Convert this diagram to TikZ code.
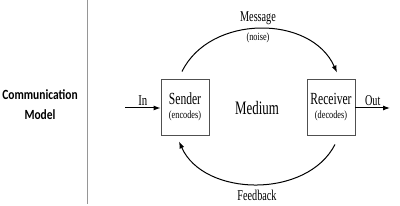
\documentclass[tikz,border=0pt]{standalone}
\usepackage{fontspec}
\setmainfont{Liberation Serif}
\newfontfamily\capfont{Carlito}
\usepackage{graphicx}
\usetikzlibrary{arrows.meta}
\usetikzlibrary{positioning,calc}
\definecolor{framegray}{RGB}{80,80,80}
\definecolor{rulegray}{RGB}{150,150,150}
\newcommand{\narrowtxt}[2][0.68]{\scalebox{#1}[1]{#2}}

\begin{document}
\begin{tikzpicture}[x=1pt,y=1pt,
    flow/.style={-{Latex[length=7pt,width=5pt]},line width=1pt},
    unitbox/.style={draw=framegray,line width=0.9pt,minimum width=48pt,
      minimum height=56pt,inner sep=0pt,align=center},
    midtxt/.style={font=\fontsize{15}{16}\selectfont},
    smalltxt/.style={font=\fontsize{11}{12}\selectfont},
  ]
  \useasboundingbox (0,0) rectangle (400,206);
  % caption on the left, divider
  \node[font=\capfont\bfseries\fontsize{14}{20}\selectfont,align=center]
    (caption) at (40,101)
    {\narrowtxt[0.82]{Communication}\\\narrowtxt[0.82]{Model}};
  \draw[rulegray,line width=0.8pt] (87,206) -- (87,2);
  % the two ends
  \node[unitbox] (sender) at (185,99)
    {\fontsize{17}{17}\selectfont\narrowtxt{Sender}\\[2pt]
     \fontsize{11}{11}\selectfont\narrowtxt[0.75]{(encodes)}};
  \node[unitbox] (receiver) at (331,99)
    {\fontsize{17}{17}\selectfont\narrowtxt{Receiver}\\[2pt]
     \fontsize{11}{11}\selectfont\narrowtxt[0.75]{(decodes)}};
  \node[font=\fontsize{19}{20}\selectfont] (medium) at (257,97.5)
    {\narrowtxt{Medium}};
  % input and output
  \coordinate (in) at (125,98);
  \coordinate (out) at (390,98);
  \draw[flow] (in) -- node[above=-1pt,midtxt]
    {\narrowtxt[0.72]{In}} (sender.west |- in);
  \draw[flow] (receiver.east |- out) -- node[above=-1pt,midtxt]
    {\narrowtxt{Out}} (out);
  % message and feedback loops
  \draw[flow] ([xshift=-3pt,yshift=7pt]sender.north)
    to[out=64,in=114,looseness=1.05] ([xshift=6pt,yshift=6pt]receiver.north);
  \draw[flow] ([xshift=4pt,yshift=-9pt]receiver.south)
    to[out=-117,in=-66] ([xshift=-6pt,yshift=-6pt]sender.south);
  \node[midtxt] (message) at (258,188) {\narrowtxt{Message}};
  \node[smalltxt] (noise) at (258,168) {\narrowtxt[0.75]{(noise)}};
  \node[midtxt] (feedback) at (257,11) {\narrowtxt{Feedback}};
\end{tikzpicture}
\end{document}
